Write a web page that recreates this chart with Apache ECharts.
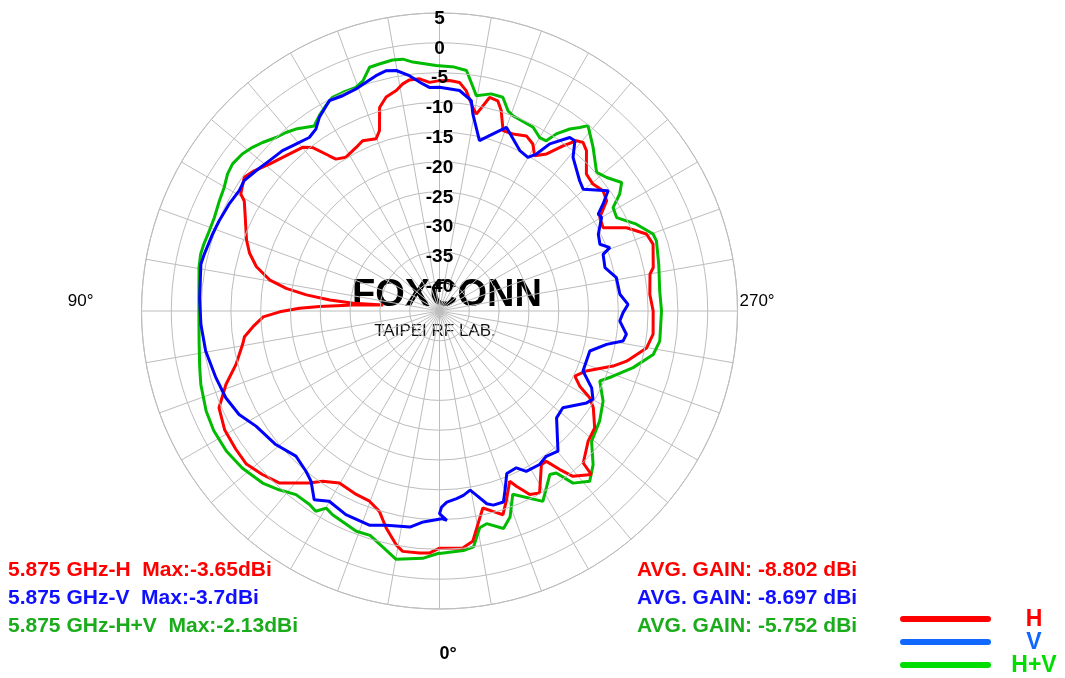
<!DOCTYPE html>
<html>
<head>
<meta charset="utf-8">
<script src="https://cdn.jsdelivr.net/npm/echarts@6/dist/echarts.min.js"></script>
<style>html,body{margin:0;padding:0;background:#fff}#c{width:1065px;height:678px}</style>
</head>
<body>
<div id="c"></div>
<script>
// ---------- data (angle in degrees: 0 = bottom, 90 = left, 180 = top, 270 = right ; gain in dBi) ----------
const gainMin = -45, gainMax = 5, gainStep = 5;
const angleStep = 10;
const angleTickLabels = { 90: '90°', 270: '270°', 0: '0°' };

const hPattern = [[0,-5.2],[2.4,-4.35],[4.7,-4.25],[8.7,-4.2],[10.5,-5.1],[13.8,-7.5],[16.7,-9.9],[20.2,-11.0],[24.4,-11.2],[30.2,-11.6],[34.5,-10.35],[37.1,-8.8],[43,-5.55],[47.3,-4.55],[51.6,-3.65],[55.9,-3.7],[61,-3.8],[66.3,-4.6],[71,-7.1],[75.3,-9.7],[80.4,-11.5],[82.5,-12.0],[85.2,-13.6],[88.1,-15.4],[89.7,-18.2],[91.1,-21.5],[92.1,-24.9],[94,-30.5],[96.1,-35.5],[95.1,-30.5],[95.7,-26.5],[96.9,-22.5],[98.4,-19.0],[100.4,-16.0],[103.6,-13.4],[106.9,-11.7],[110.2,-10.5],[115.8,-8.8],[119.4,-7.4],[120.5,-6.3],[124.4,-5.3],[127.1,-6.0],[130.8,-7.3],[136.2,-8.55],[140.1,-9.2],[142.2,-10.3],[144.6,-13.05],[145.7,-14.15],[148.7,-14.8],[153,-14.2],[155.7,-13.65],[159.8,-14.2],[161.6,-13.1],[163.6,-9.4],[166,-8.0],[168.9,-7.3],[170.8,-6.4],[172.6,-5.9],[175.1,-5.9],[177.5,-6.6],[180,-6.35],[182.5,-6.3],[185,-6.5],[186.9,-7.75],[189.3,-10.4],[190.6,-11.4],[193.2,-8.2],[195.5,-8.4],[197.1,-9.8],[199.4,-12.9],[202.5,-12.85],[206.4,-12.2],[209.2,-12.9],[211.5,-14.45],[214.3,-13.1],[216.8,-10.4],[218.8,-8.35],[220.4,-7.85],[222.5,-8.5],[227,-11.3],[230.4,-11.6],[233.7,-10.95],[236.6,-11.4],[239.7,-13.85],[243,-14.2],[246,-10.65],[249.6,-7.95],[252.6,-7.45],[258.5,-8.4],[260.1,-9.15],[265.5,-9.6],[270,-9.15],[276.2,-8.95],[280.1,-9.7],[285,-12.5],[287.6,-14.45],[292.2,-18.4],[295.7,-19.8],[298.2,-18.3],[300,-15.9],[302.2,-14.5],[307,-12.4],[311.2,-11.85],[316.6,-9.9],[317.1,-7.55],[321.1,-9.35],[322.8,-11.6],[324.6,-14.05],[326.4,-14.1],[331.2,-10.15],[333.8,-10.7],[336.3,-12.9],[337.6,-14.1],[340.7,-11.15],[342.7,-9.2],[345.1,-10.2],[347.6,-11.15],[349,-9.6],[351.8,-5.95],[354.4,-5.05],[360,-5.2]];

const vPattern = [[4.4,-9.5],[7.8,-8.4],[13.9,-7.95],[18,-7.2],[24.7,-7.4],[30.1,-8.1],[33.6,-7.0],[37,-9.2],[39.8,-10.0],[44.7,-10.75],[50.8,-9.55],[57.9,-8.65],[62.7,-7.15],[67.9,-6.3],[73.4,-5.85],[80.3,-5.2],[86.8,-4.9],[93,-4.7],[101.1,-4.2],[103.6,-4.4],[108.7,-4.8],[112.2,-5.05],[116.9,-5.4],[121,-5.8],[123.7,-5.6],[127.4,-6.25],[131.4,-6.9],[135.6,-7.35],[139.3,-8.05],[143.1,-8.6],[145.8,-8.1],[148.2,-6.75],[152.4,-5.15],[155.8,-5.4],[159.4,-5.2],[162.2,-4.7],[164.9,-4.1],[167.5,-3.7],[169.8,-4.0],[172.7,-5.2],[175.8,-6.8],[177.4,-7.45],[180,-7.45],[185.2,-7.85],[188.6,-9.3],[189.6,-11.45],[193.2,-15.65],[195.9,-14.4],[200,-12.2],[206.6,-14.9],[209.9,-15.25],[211.7,-14.05],[213.4,-11.4],[216.9,-8.6],[218.5,-8.5],[221,-10.85],[227.1,-12.9],[229.7,-13.4],[234.5,-10.25],[236.8,-12.2],[238.6,-13.8],[240,-13.6],[244.2,-15.4],[247.4,-15.85],[249.6,-14.5],[250.9,-15.95],[255.3,-16.3],[259.3,-14.8],[264.7,-14.6],[268,-13.35],[270.5,-14.2],[273.2,-14.7],[277.1,-13.4],[279.3,-13.8],[281.3,-16.4],[284.9,-18.9],[292.7,-18.9],[296.8,-16.4],[299.9,-15.3],[302,-15.9],[308.1,-18.7],[312.4,-18.4],[319.8,-14.2],[323.7,-14.75],[326.9,-14.25],[331.6,-14.4],[333.9,-15.7],[337.5,-15.5],[339.9,-13.0],[341.5,-11.2],[344.5,-11.2],[346.2,-11.7],[348.6,-13.45],[350.3,-14.5],[352.6,-13.8],[354.8,-13.4],[357.8,-12.9],[359.4,-12.1],[360,-11.0],[358,-9.85],[359.4,-10.15],[4.4,-9.5]];

const hvPattern = [[0,-4.4],[3.9,-3.4],[9.9,-2.7],[14.4,-4.6],[17.2,-5.6],[20.7,-5.5],[27.7,-6.4],[29.9,-6.85],[31.7,-5.5],[33.9,-5.9],[38,-5.9],[41.9,-4.7],[45.8,-3.6],[51.5,-2.7],[56.7,-2.2],[62.1,-2.13],[66.8,-2.4],[72.9,-3.1],[77,-3.7],[82.9,-4.35],[87.6,-4.6],[92.4,-4.6],[100.2,-4.0],[103.4,-3.8],[105.8,-3.9],[109.2,-4.1],[112.5,-4.1],[116.6,-3.7],[119.8,-3.35],[122.9,-2.65],[125.4,-2.4],[128.5,-2.7],[131.2,-3.3],[133.6,-4.0],[136.7,-5.0],[139.3,-5.5],[141.7,-6.1],[145.9,-7.5],[148.4,-6.5],[151.1,-5.6],[153.4,-4.9],[156.1,-4.9],[159.5,-4.95],[161.6,-4.3],[164,-2.45],[166.3,-2.35],[169.4,-2.15],[171.7,-2.3],[173.9,-3.0],[179.2,-3.8],[183.5,-4.0],[186.4,-4.4],[188.5,-7.0],[189.7,-8.35],[193.4,-7.55],[196.5,-7.6],[198.9,-9.5],[200.6,-10.0],[207,-10.4],[210,-11.4],[212.1,-11.3],[213.4,-9.4],[215.6,-7.45],[217.4,-6.25],[218.7,-5.15],[223.2,-7.35],[228.6,-9.85],[231.4,-9.1],[234.8,-7.6],[237,-8.95],[239.2,-11.1],[242.2,-11.4],[246.2,-8.9],[250.2,-6.9],[252.1,-6.75],[258.1,-7.4],[264.8,-7.9],[270,-7.75],[277.8,-7.7],[281.5,-8.4],[286.3,-11.15],[290.6,-13.9],[293.6,-15.65],[298.9,-13.65],[304.5,-12.4],[310.6,-11.4],[315,-8.55],[318.6,-6.9],[322.2,-8.45],[324.2,-11.5],[326,-11.9],[331.5,-8.65],[338.2,-11.9],[341.1,-8.45],[343.6,-6.95],[347.5,-8.45],[349.5,-8.0],[351.8,-5.0],[354.3,-4.6],[360,-4.3]];

const seriesNames = ['H', 'V', 'H+V'];
const maxTexts = ['5.875 GHz-H  Max:-3.65dBi', '5.875 GHz-V  Max:-3.7dBi', '5.875 GHz-H+V  Max:-2.13dBi'];
const avgTexts = ['AVG. GAIN: -8.802 dBi', 'AVG. GAIN: -8.697 dBi', 'AVG. GAIN: -5.752 dBi'];
const logoText = 'FOXCONN';
const labText = 'TAIPEI RF LAB.';

// ---------- styling ----------
const FONT = '"Liberation Sans", Arial, sans-serif';
const lineColors = ['#ff0000', '#0000ff', '#00bb00'];
const textColors = ['#ff0000', '#1010ff', '#1aac1a'];
const legendColors = ['#ff0000', '#1068ff', '#00dd00'];
const gridColor = '#bdbdbd';

// angle axis runs from 180 (top) clockwise to 540, so map 0..180 onto 360..540
const toAxisAngle = a => (a < 180 ? a + 360 : a);
const toSeriesData = pts => pts.map(([a, g]) => [g, toAxisAngle(a)]);

const chart = echarts.init(document.getElementById('c'), null, { renderer: 'canvas' });

const rowY = [570, 598, 626];
const legendY = [619, 642, 665];
const graphic = [];
graphic.push({ type: 'text', z: 0, x: 447, y: 296, style: { text: logoText, fill: '#000', font: 'bold 38px ' + FONT, align: 'center', verticalAlign: 'middle' } });
graphic.push({ type: 'text', z: 0, x: 435, y: 331, style: { text: labText, fill: '#111', font: '17px ' + FONT, align: 'center', verticalAlign: 'middle' } });
maxTexts.forEach((t, i) => graphic.push({ type: 'text', x: 8, y: rowY[i], style: { text: t, fill: textColors[i], font: 'bold 21px ' + FONT, align: 'left', verticalAlign: 'middle' } }));
avgTexts.forEach((t, i) => graphic.push({ type: 'text', x: 637, y: rowY[i], style: { text: t, fill: textColors[i], font: 'bold 21px ' + FONT, align: 'left', verticalAlign: 'middle' } }));
seriesNames.forEach((n, i) => {
  graphic.push({ type: 'line', shape: { x1: 903, y1: legendY[i], x2: 988, y2: legendY[i] }, style: { stroke: legendColors[i], lineWidth: 6, lineCap: 'round' } });
  graphic.push({ type: 'text', x: 1034, y: legendY[i] + 1, style: { text: n, fill: legendColors[i], font: 'bold 23px ' + FONT, align: 'center', verticalAlign: 'middle' } });
});

const option = {
  animation: false,
  backgroundColor: '#ffffff',
  polar: { center: [439.5, 311], radius: 298 },
  angleAxis: {
    type: 'value', min: 180, max: 540, interval: angleStep, startAngle: 90, clockwise: true,
    axisLine: { show: true, lineStyle: { color: gridColor, width: 1 } },
    axisTick: { show: false },
    splitLine: { show: true, lineStyle: { color: gridColor, width: 1 } },
    axisLabel: {
      margin: 2, color: '#000', fontFamily: FONT, fontSize: 17,
      formatter: v => {
        const d = v % 360;
        if (v === 540) return '';
        if (d === 90) return '{l|' + angleTickLabels[90] + '}';
        if (d === 270) return '{r|' + angleTickLabels[270] + '}';
        if (d === 0) return '{b|' + angleTickLabels[0] + '}';
        return '';
      },
      rich: {
        l: { padding: [0, 46, 20, 0], fontSize: 17, color: '#000', fontFamily: FONT },
        r: { padding: [0, 0, 20, 0], fontSize: 17, color: '#000', fontFamily: FONT },
        b: { padding: [34, 0, 0, 17], fontSize: 18, fontWeight: 'bold', color: '#000', fontFamily: FONT }
      }
    }
  },
  radiusAxis: {
    type: 'value', min: gainMin, max: gainMax, interval: gainStep,
    axisLine: { show: false }, axisTick: { show: false },
    splitLine: { show: true, lineStyle: { color: gridColor, width: 1 } },
    axisLabel: {
      margin: 0, align: 'center', verticalAlign: 'top', lineHeight: 11,
      color: '#000', fontWeight: 'bold', fontSize: 19, fontFamily: FONT,
      formatter: v => (v === gainMin ? '' : String(v))
    },
    z: 5
  },
  series: [
    { name: seriesNames[2], type: 'line', coordinateSystem: 'polar', data: toSeriesData(hvPattern), showSymbol: false, lineStyle: { color: lineColors[2], width: 3 }, z: 3 },
    { name: seriesNames[0], type: 'line', coordinateSystem: 'polar', data: toSeriesData(hPattern), showSymbol: false, lineStyle: { color: lineColors[0], width: 3 }, z: 4 },
    { name: seriesNames[1], type: 'line', coordinateSystem: 'polar', data: toSeriesData(vPattern), showSymbol: false, lineStyle: { color: lineColors[1], width: 3 }, z: 5 }
  ],
  graphic: graphic
};
chart.setOption(option);
</script>
</body>
</html>
